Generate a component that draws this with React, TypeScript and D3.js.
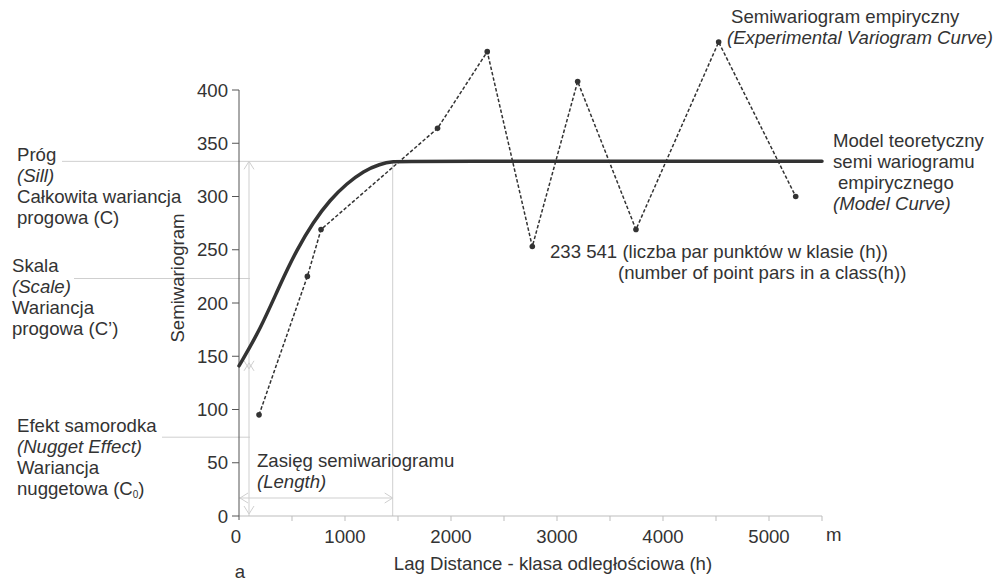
import React from "react";
import * as d3 from "d3";

// Experimental semivariogram: lag distance (m) and semivariance per class
const lagDistance = [189, 645, 774, 1873, 2342, 2767, 3195, 3745, 4525, 5252];
const semivariance = [95, 225, 269, 364, 436, 253, 408, 269, 445, 300];

// Fitted model curve (nugget -> sill at the range), sampled points
const modelLag = [0, 200, 390, 545, 700, 860, 1015, 1175, 1330, 1450, 1600, 5500];
const modelValue = [141, 175, 218, 250, 276, 297, 312, 324, 330.5, 333, 333, 333];

// Structural parameters shown by the guide lines
const sill = 333;
const scaleLevel = 223;
const nuggetLevel = 74;
const rangeLag = 1450;
const arrowSplit = 141;

const xTicks = [0, 1000, 2000, 3000, 4000, 5000];
const xMinorTicks = [500, 1000, 1500, 2000, 2500, 3000, 3500, 4000, 4500, 5000, 5500];
const yTicks = [0, 50, 100, 150, 200, 250, 300, 350, 400];

const W = 998;
const H = 581;
const FONT = "'Liberation Sans', Arial, Helvetica, sans-serif";
const INK = "#333";
const GUIDE = "#cfcfcf";

export default function App() {
  const x = d3.scaleLinear().domain([0, 5500]).range([239, 822]);
  const y = d3.scaleLinear().domain([0, 400]).range([516, 90]);

  const empirical = lagDistance.map((d, i) => [d, semivariance[i]] as [number, number]);
  const model = modelLag.map((d, i) => [d, modelValue[i]] as [number, number]);

  const line = d3
    .line<[number, number]>()
    .x((d) => x(d[0]))
    .y((d) => y(d[1]));
  const modelLine = d3
    .line<[number, number]>()
    .x((d) => x(d[0]))
    .y((d) => y(d[1]))
    .curve(d3.curveBasis);

  const arrowX = 249;
  const chev = 5;
  const up = (yy: number) =>
    `M${arrowX - chev},${yy + chev * 1.6} L${arrowX},${yy} L${arrowX + chev},${yy + chev * 1.6}`;
  const down = (yy: number) =>
    `M${arrowX - chev},${yy - chev * 1.6} L${arrowX},${yy} L${arrowX + chev},${yy - chev * 1.6}`;
  const lenY = 498;
  const left = (xx: number) => `M${xx + 8},${lenY - 5} L${xx},${lenY} L${xx + 8},${lenY + 5}`;
  const right = (xx: number) => `M${xx - 8},${lenY - 5} L${xx},${lenY} L${xx - 8},${lenY + 5}`;

  const txt = (
    s: string,
    tx: number,
    ty: number,
    italic = false,
    anchor: "start" | "middle" | "end" = "start"
  ) => (
    <text
      x={tx}
      y={ty}
      fontStyle={italic ? "italic" : "normal"}
      textAnchor={anchor}
      key={`${s}-${tx}-${ty}`}
    >
      {s}
    </text>
  );

  return (
    <svg
      width={W}
      height={H}
      style={{ position: "absolute", left: 0, top: 0, background: "#fff" }}
      fontFamily={FONT}
      fontSize={18.6}
      fill={INK}
    >
      {/* guide lines */}
      <g stroke={GUIDE} strokeWidth={1} fill="none">
        <line x1={62} x2={x(5500)} y1={y(sill)} y2={y(sill)} />
        <line x1={74} x2={arrowX + 1} y1={y(scaleLevel)} y2={y(scaleLevel)} />
        <line x1={162} x2={arrowX + 1} y1={y(nuggetLevel)} y2={y(nuggetLevel)} />
        <line x1={x(rangeLag)} x2={x(rangeLag)} y1={y(sill)} y2={y(0)} />
        <line x1={arrowX} x2={arrowX} y1={y(sill)} y2={y(0)} />
        <path d={up(y(sill))} />
        <path d={up(y(arrowSplit) - 3)} />
        <path d={down(y(arrowSplit) + 3)} />
        <path d={down(y(0) - 2)} />
        <line x1={x(0)} x2={x(rangeLag)} y1={lenY} y2={lenY} />
        <path d={left(x(0) + 1)} />
        <path d={right(x(rangeLag))} />
      </g>

      {/* x axis */}
      <g stroke="#bdbdbd" strokeWidth={1}>
        <line x1={x(0)} x2={x(5500)} y1={y(0)} y2={y(0)} />
        {xMinorTicks.map((t) => (
          <line key={t} x1={x(t)} x2={x(t)} y1={y(0)} y2={y(0) + 5} />
        ))}
      </g>
      {xTicks.map((t) => (
        <text key={t} x={x(t) - (t === 0 ? 3 : 0)} y={543} textAnchor="middle">
          {t}
        </text>
      ))}
      <text x={826} y={541}>m</text>
      <text x={553} y={570} textAnchor="middle">
        Lag Distance - klasa odległościowa (h)
      </text>
      <text x={240} y={578} textAnchor="middle">a</text>

      {/* y axis */}
      <g stroke="#555" strokeWidth={1}>
        <line x1={x(0)} x2={x(0)} y1={y(400)} y2={y(0) + 4} />
        {yTicks.map((t) => (
          <line key={t} x1={x(0) - 7} x2={x(0)} y1={y(t)} y2={y(t)} />
        ))}
      </g>
      {yTicks.map((t) => (
        <text key={t} x={228} y={y(t)} dy="0.35em" textAnchor="end">
          {t}
        </text>
      ))}
      <text transform="translate(184,278) rotate(-90)" textAnchor="middle">
        Semiwariogram
      </text>

      {/* model curve */}
      <path
        d={modelLine(model) || ""}
        fill="none"
        stroke={INK}
        strokeWidth={3.5}
        strokeLinecap="round"
      />

      {/* experimental semivariogram */}
      <path
        d={line(empirical) || ""}
        fill="none"
        stroke={INK}
        strokeWidth={1.5}
        strokeDasharray="3.5 2"
      />
      {empirical.map((d, i) => (
        <circle key={i} cx={x(d[0])} cy={y(d[1])} r={2.8} fill={INK} />
      ))}

      {/* left annotations */}
      {txt("Próg", 17, 161)}
      {txt("(Sill)", 17, 182, true)}
      {txt("Całkowita wariancja", 17, 203)}
      {txt("progowa (C)", 17, 224)}

      {txt("Skala", 12, 272)}
      {txt("(Scale)", 12, 293, true)}
      {txt("Wariancja", 12, 314)}
      {txt("progowa (C’)", 12, 335)}

      <g>
        {txt("Efekt samorodka", 17, 432)}
        {txt("(Nugget Effect)", 17, 453, true)}
        {txt("Wariancja", 17, 474)}
        <text x={17} y={495}>
          nuggetowa (C
          <tspan fontSize={10} dy={3}>0</tspan>
          <tspan dy={-3}>)</tspan>
        </text>
      </g>

      {txt("Zasięg semiwariogramu", 257, 467)}
      {txt("(Length)", 257, 488, true)}

      {/* right annotations */}
      {txt("Semiwariogram empiryczny", 731, 23)}
      {txt("(Experimental Variogram Curve)", 727, 44, true)}

      {txt("Model teoretyczny", 833, 147)}
      {txt("semi wariogramu", 833, 168)}
      {txt(" empirycznego", 838, 189)}
      {txt("(Model Curve)", 833, 210, true)}

      {txt("233 541 (liczba par punktów w klasie (h))", 550, 258)}
      {txt("(number of point pars in a class(h))", 618, 279)}
    </svg>
  );
}
